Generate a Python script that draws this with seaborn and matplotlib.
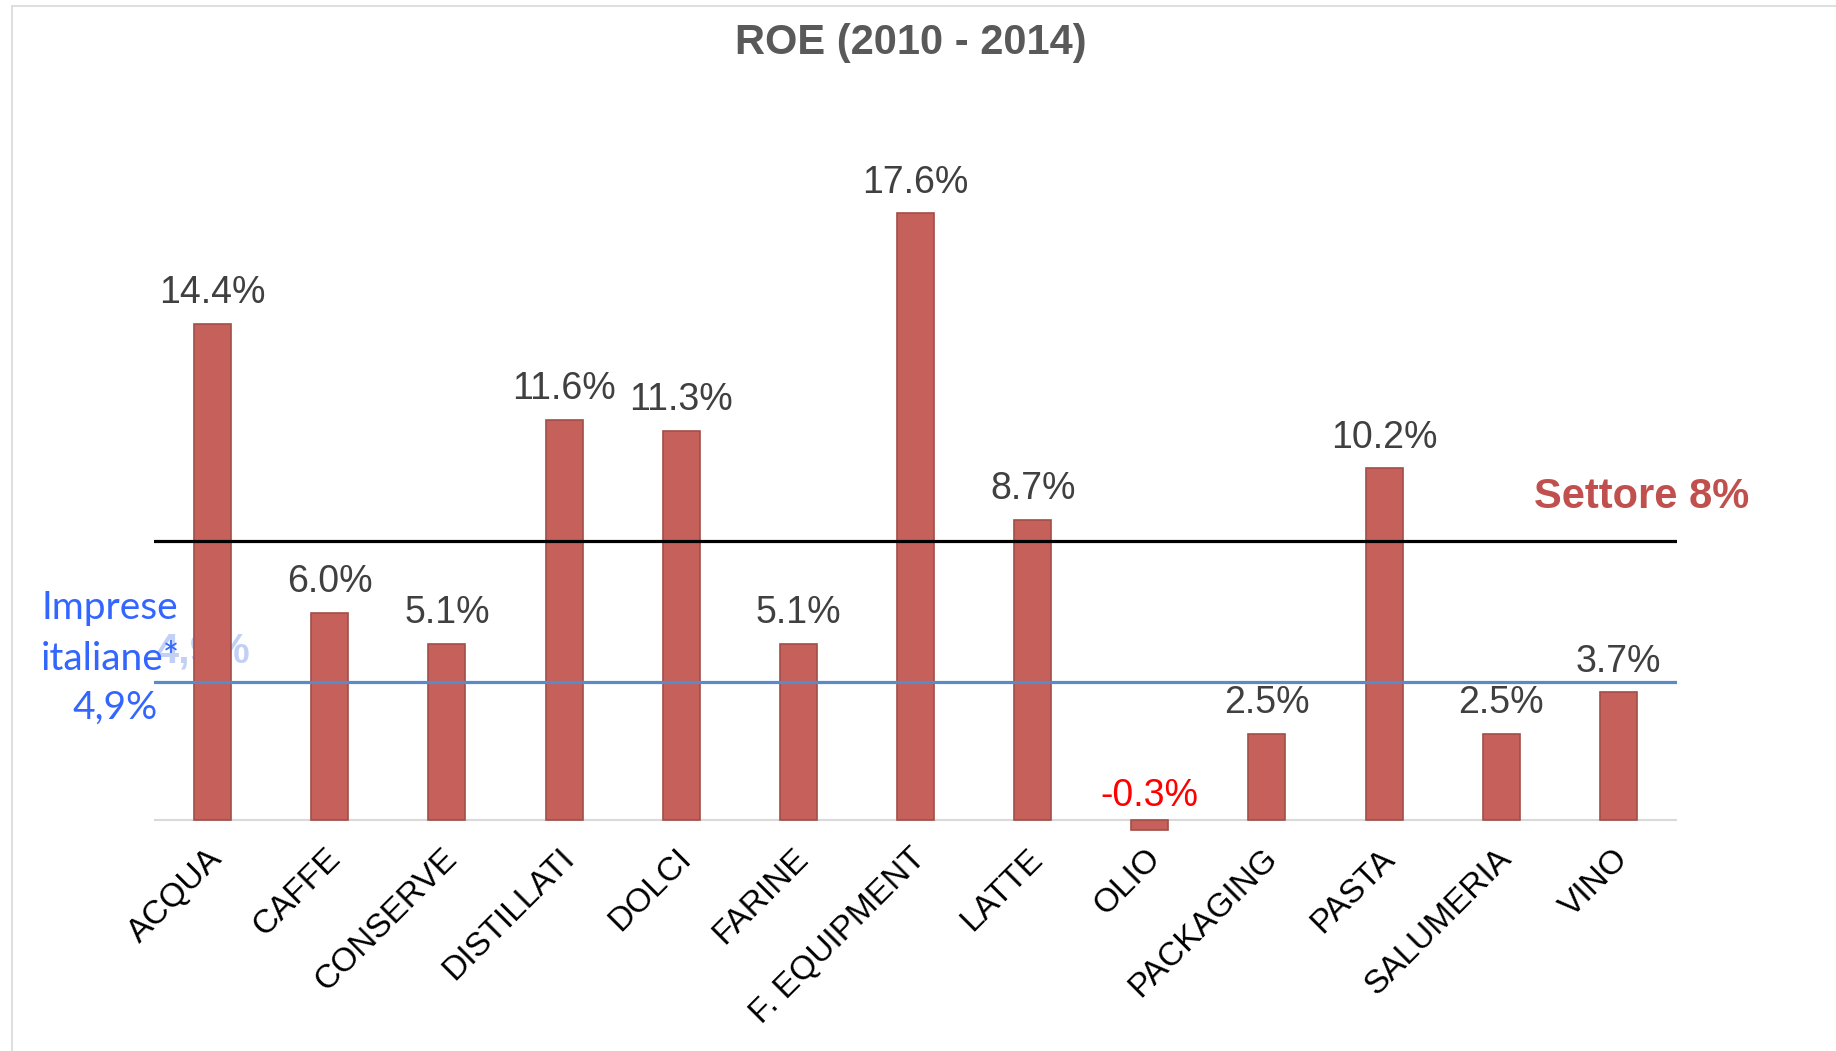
import matplotlib
matplotlib.use("Agg")
import matplotlib.pyplot as plt
import matplotlib.transforms as mtransforms
from matplotlib.lines import Line2D
import seaborn as sns
import pandas as pd

# ---- data ----
categories = ["ACQUA", "CAFFE", "CONSERVE", "DISTILLATI", "DOLCI", "FARINE",
              "F. EQUIPMENT", "LATTE", "OLIO", "PACKAGING", "PASTA",
              "SALUMERIA", "VINO"]
roe_values = [14.4, 6.0, 5.1, 11.6, 11.3, 5.1, 17.6, 8.7, -0.3, 2.5, 10.2, 2.5, 3.7]
roe_labels = ["14.4%", "6.0%", "5.1%", "11.6%", "11.3%", "5.1%", "17.6%",
              "8.7%", "-0.3%", "2.5%", "10.2%", "2.5%", "3.7%"]
settore_line = 8.1
imprese_line = 4.0
title_text = "ROE (2010 - 2014)"
settore_text = "Settore 8%"
imprese_text = ["Imprese", "italiane*", "4,9%"]
faded_text = "4,9%"

df = pd.DataFrame({"cat": categories, "roe": roe_values})

sns.set_theme(style="white")
plt.rcParams["font.family"] = ["Liberation Sans", "DejaVu Sans"]

fig = plt.figure(figsize=(18.36, 10.51), dpi=100)
W, H = 1836, 1051
ax = fig.add_axes([154 / W, 1 - 854.5 / H, 1523 / W, (854.5 - 165.1) / H])

bar_color = "#C6605A"
sns.barplot(data=df, x="cat", y="roe", color=bar_color, saturation=1,
            width=0.316, ax=ax, zorder=3,
            edgecolor="#A24E49", linewidth=1.2)

ax.set_xlim(-0.5, 12.5)
ax.set_ylim(-1, 19)

# zero line
ax.axhline(0, color="#D9D9D9", lw=1.5, zorder=2)
# reference lines
ax.axhline(settore_line, color="black", lw=2.3, zorder=4)
ax.axhline(imprese_line, color="#5B8AC6", lw=2.3, zorder=4)

# value labels
for i, (v, lab) in enumerate(zip(roe_values, roe_labels)):
    if v >= 0:
        ax.annotate(lab, xy=(i, v), xytext=(0, 15), textcoords="offset points",
                    ha="center", va="baseline", fontsize=27, color="#404040",
                    zorder=6)
    else:
        ax.annotate(lab, xy=(i, 0), xytext=(0, 10), textcoords="offset points",
                    ha="center", va="baseline", fontsize=27, color="#FF0000",
                    zorder=6)

# faded label behind first bar
ax.text(-0.085, 4.58, faded_text, ha="center", va="baseline", fontsize=30,
        fontweight="bold", color="#C3D0F6", zorder=1, clip_on=False)

# Settore label
ax.text(12.2, 9.05, settore_text, ha="center", va="baseline", fontsize=30,
        fontweight="bold", color="#C0504D", clip_on=False)

# Imprese label
imp_x = [-0.876, -0.87, -0.83]
imp_y = [5.83, 4.35, 2.93]
for t, xx, yy in zip(imprese_text, imp_x, imp_y):
    ax.text(xx, yy, t, ha="center", va="baseline", fontsize=28,
            color="#3366FF", family=["Lato", "DejaVu Sans"], clip_on=False,
            zorder=5)

# axes styling
for s in ax.spines.values():
    s.set_visible(False)
ax.set_yticks([])
ax.set_xlabel("")
ax.set_ylabel("")
ax.tick_params(axis="x", length=0, pad=4)
ax.set_xticks(range(len(categories)))
ax.set_xticklabels(categories, fontsize=24, color="black")
offset = mtransforms.ScaledTranslation(8.3 / 72, 0, fig.dpi_scale_trans)
for lbl in ax.get_xticklabels():
    lbl.set_rotation(45)
    lbl.set_ha("right")
    lbl.set_va("baseline")
    lbl.set_rotation_mode("anchor")
    lbl.set_transform(lbl.get_transform() + offset)

# title
fig.text(910.7 / W, 1 - 54 / H, title_text, ha="center", va="baseline",
         fontsize=30, fontweight="bold", color="#595959")

# light frame lines
fig.add_artist(Line2D([11.5 / W, 11.5 / W], [0, 1 - 6 / H],
                      transform=fig.transFigure, color="#D9D9D9", lw=1.2))
fig.add_artist(Line2D([11.5 / W, 1], [1 - 6 / H, 1 - 6 / H],
                      transform=fig.transFigure, color="#D9D9D9", lw=1.2))

fig.savefig("out.png", dpi=100)
